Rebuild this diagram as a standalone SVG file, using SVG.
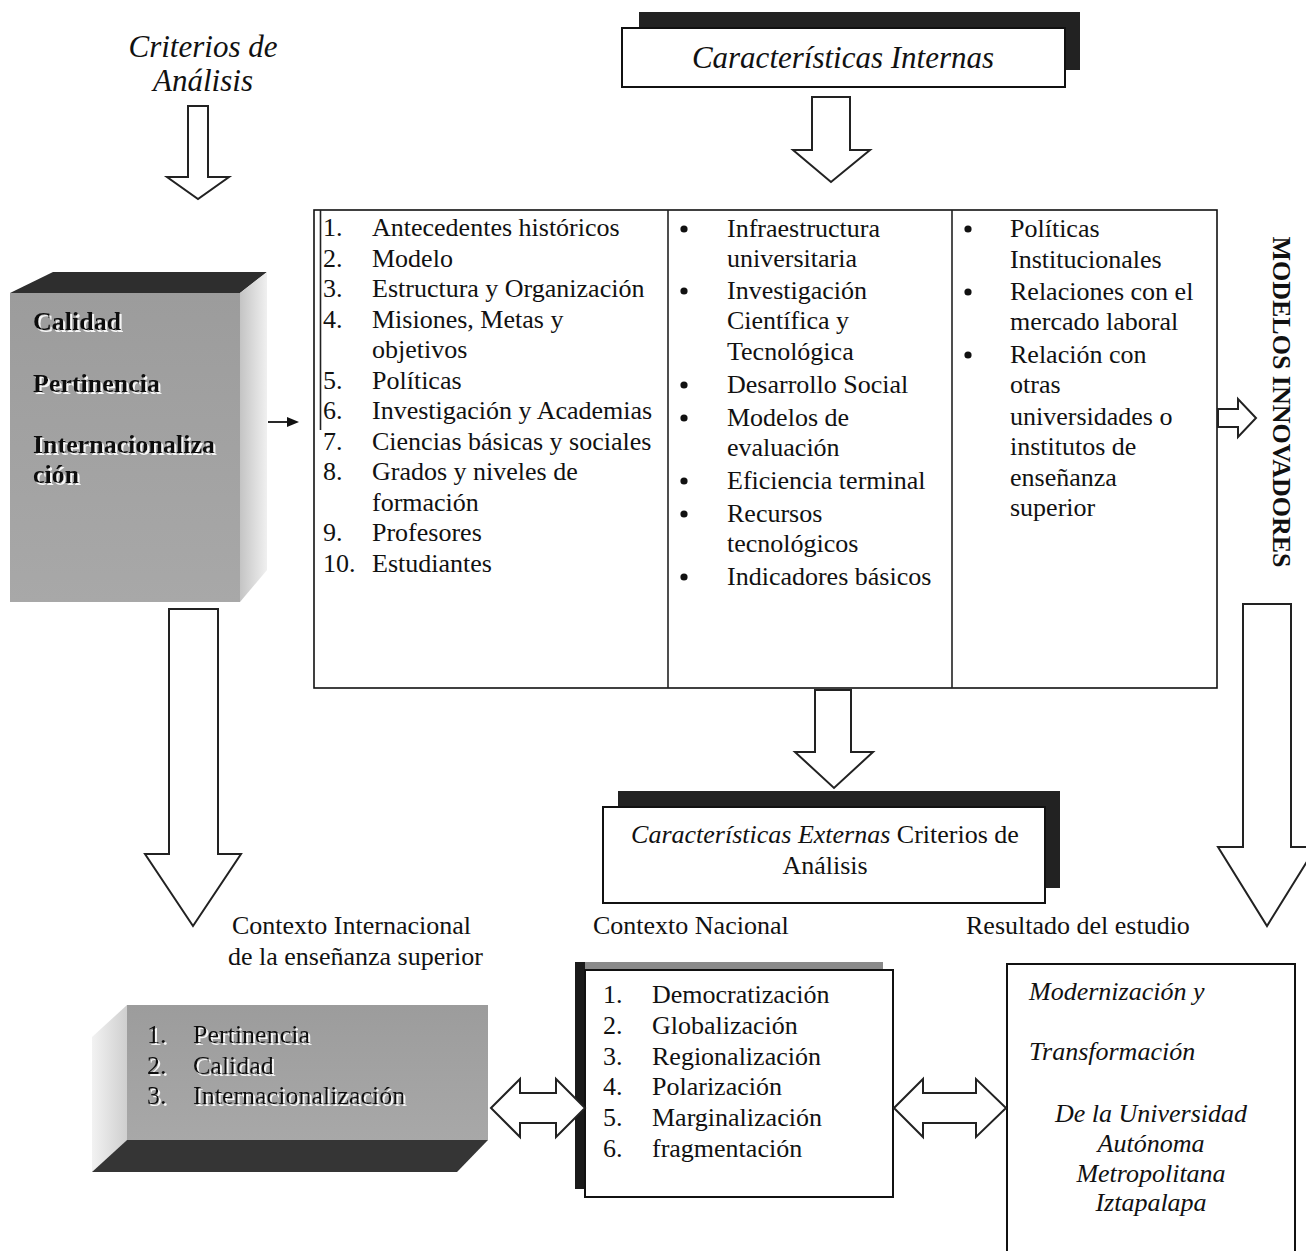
<svg xmlns="http://www.w3.org/2000/svg" width="1306" height="1251" viewBox="0 0 1306 1251">
<style>
text{font-family:"Liberation Serif","Times New Roman",serif;fill:#111;}
.b{font-size:26px;}
.bd{font-size:26px;font-weight:bold;}
.it{font-size:26px;font-style:italic;}
.h{font-size:31px;font-style:italic;}
.ar{fill:#fff;stroke:#222;stroke-width:2;stroke-linejoin:miter;}
.ln{fill:none;stroke:#222;stroke-width:1.6;}
.box{fill:#fff;stroke:#111;stroke-width:2;}
.shd{fill:#222;}
</style>
<defs>
<filter id="emb" x="-5%" y="-20%" width="110%" height="140%">
<feOffset in="SourceAlpha" dx="1.5" dy="1.5" result="o"/>
<feFlood flood-color="#ffffff" flood-opacity="0.9"/>
<feComposite in2="o" operator="in" result="w"/>
<feMerge><feMergeNode in="w"/><feMergeNode in="SourceGraphic"/></feMerge>
</filter>
<linearGradient id="sideR" x1="0" y1="0" x2="1" y2="0">
<stop offset="0" stop-color="#c4c4c4"/><stop offset="1" stop-color="#f0f0f0"/>
</linearGradient>
<linearGradient id="sideL" x1="0" y1="0" x2="1" y2="0">
<stop offset="0" stop-color="#f2f2f2"/><stop offset="1" stop-color="#cfcfcf"/>
</linearGradient>
<linearGradient id="front" x1="0" y1="0" x2="0" y2="1">
<stop offset="0" stop-color="#9c9c9c"/><stop offset="1" stop-color="#a8a8a8"/>
</linearGradient>
</defs>

<!-- Criterios de Análisis label -->
<g id="criterios">
<text class="h" x="203" y="57" text-anchor="middle">Criterios de</text>
<text class="h" x="203" y="91" text-anchor="middle">Análisis</text>
</g>

<!-- Características Internas -->
<g id="internas">
<rect class="shd" x="639" y="12" width="441" height="58"/>
<rect class="box" x="622" y="28" width="443" height="59"/>
<text class="h" x="843" y="68" text-anchor="middle">Características Internas</text>
</g>

<!-- Calidad 3D box -->
<g id="calidad">
<polygon points="10,293 53,272 267,272 240,293" fill="#2e2e2e"/>
<polygon points="240,293 267,272 267,570 240,602" fill="url(#sideR)"/>
<rect x="10" y="293" width="230" height="309" fill="url(#front)"/>
<g filter="url(#emb)">
<text class="bd" x="33" y="330">Calidad</text>
<text class="bd" x="33" y="392">Pertinencia</text>
<text class="bd" x="33" y="453">Internacionaliza</text>
<text class="bd" x="33" y="483">ción</text>
</g>
</g>

<!-- Main table -->
<g id="tabla">
<rect x="314" y="210" width="903" height="478" fill="#fff" stroke="#111" stroke-width="1.6"/>
<line class="ln" x1="320.5" y1="210" x2="320.5" y2="430"/>
<line class="ln" x1="668" y1="210" x2="668" y2="688"/>
<line class="ln" x1="952" y1="210" x2="952" y2="688"/>
<g class="col1">
<text class="b" x="323" y="236">1.</text><text class="b" x="372" y="236">Antecedentes históricos</text>
<text class="b" x="323" y="266.5">2.</text><text class="b" x="372" y="266.5">Modelo</text>
<text class="b" x="323" y="297">3.</text><text class="b" x="372" y="297">Estructura y Organización</text>
<text class="b" x="323" y="327.5">4.</text><text class="b" x="372" y="327.5">Misiones, Metas y</text>
<text class="b" x="372" y="358">objetivos</text>
<text class="b" x="323" y="388.5">5.</text><text class="b" x="372" y="388.5">Políticas</text>
<text class="b" x="323" y="419">6.</text><text class="b" x="372" y="419">Investigación y Academias</text>
<text class="b" x="323" y="449.5">7.</text><text class="b" x="372" y="449.5">Ciencias básicas y sociales</text>
<text class="b" x="323" y="480">8.</text><text class="b" x="372" y="480">Grados y niveles de</text>
<text class="b" x="372" y="510.5">formación</text>
<text class="b" x="323" y="541">9.</text><text class="b" x="372" y="541">Profesores</text>
<text class="b" x="323" y="571.5">10.</text><text class="b" x="372" y="571.5">Estudiantes</text>
</g>
<g class="col2">
<circle cx="684" cy="229" r="3.6" fill="#111"/>
<text class="b" x="727" y="237">Infraestructura</text>
<text class="b" x="727" y="267">universitaria</text>
<circle cx="684" cy="291" r="3.6" fill="#111"/>
<text class="b" x="727" y="299">Investigación</text>
<text class="b" x="727" y="329">Científica y</text>
<text class="b" x="727" y="360">Tecnológica</text>
<circle cx="684" cy="385" r="3.6" fill="#111"/>
<text class="b" x="727" y="393">Desarrollo Social</text>
<circle cx="684" cy="418" r="3.6" fill="#111"/>
<text class="b" x="727" y="426">Modelos de</text>
<text class="b" x="727" y="456">evaluación</text>
<circle cx="684" cy="481" r="3.6" fill="#111"/>
<text class="b" x="727" y="489">Eficiencia terminal</text>
<circle cx="684" cy="514" r="3.6" fill="#111"/>
<text class="b" x="727" y="522">Recursos</text>
<text class="b" x="727" y="552">tecnológicos</text>
<circle cx="684" cy="577" r="3.6" fill="#111"/>
<text class="b" x="727" y="585">Indicadores básicos</text>
</g>
<g class="col3">
<circle cx="968" cy="229" r="3.6" fill="#111"/>
<text class="b" x="1010" y="237">Políticas</text>
<text class="b" x="1010" y="268">Institucionales</text>
<circle cx="968" cy="292" r="3.6" fill="#111"/>
<text class="b" x="1010" y="300">Relaciones con el</text>
<text class="b" x="1010" y="330">mercado laboral</text>
<circle cx="968" cy="355" r="3.6" fill="#111"/>
<text class="b" x="1010" y="363">Relación con</text>
<text class="b" x="1010" y="393">otras</text>
<text class="b" x="1010" y="425">universidades o</text>
<text class="b" x="1010" y="455">institutos de</text>
<text class="b" x="1010" y="486">enseñanza</text>
<text class="b" x="1010" y="516">superior</text>
</g>
</g>

<!-- Modelos innovadores -->
<g id="modelos">
<text class="bd" transform="translate(1281,402) rotate(90)" x="0" y="8.5" text-anchor="middle">MODELOS INNOVADORES</text>
</g>

<!-- Características Externas -->
<g id="externas">
<rect class="shd" x="618" y="791" width="442" height="97"/>
<rect class="box" x="603" y="807" width="442" height="96"/>
<text class="b" x="825" y="843" text-anchor="middle"><tspan font-style="italic">Características Externas</tspan> Criterios de</text>
<text class="b" x="825" y="874" text-anchor="middle">Análisis</text>
</g>

<!-- Labels -->
<g id="labels">
<text class="b" x="232" y="934">Contexto Internacional</text>
<text class="b" x="228" y="965">de la enseñanza superior</text>
<text class="b" x="593" y="934">Contexto Nacional</text>
<text class="b" x="966" y="934">Resultado del estudio</text>
</g>

<!-- Contexto internacional 3D box -->
<g id="internacional">
<polygon points="127,1005 92,1037 92,1172 127,1140" fill="url(#sideL)"/>
<polygon points="127,1140 488,1140 457,1172 92,1172" fill="#353535"/>
<rect x="127" y="1005" width="361" height="135" fill="url(#front)"/>
<g filter="url(#emb)">
<text class="b" x="147" y="1043">1.</text><text class="b" x="193" y="1043">Pertinencia</text>
<text class="b" x="147" y="1073.5">2.</text><text class="b" x="193" y="1073.5">Calidad</text>
<text class="b" x="147" y="1104">3.</text><text class="b" x="193" y="1104">Internacionalización</text>
</g>
</g>

<!-- Contexto nacional box -->
<g id="nacional">
<rect x="575" y="962" width="308" height="227" fill="#1a1a1a"/>
<rect x="585" y="962" width="298" height="8" fill="#8a8a8a"/>
<rect class="box" x="585" y="970" width="308" height="227"/>
<text class="b" x="603" y="1003">1.</text><text class="b" x="652" y="1003">Democratización</text>
<text class="b" x="603" y="1034">2.</text><text class="b" x="652" y="1034">Globalización</text>
<text class="b" x="603" y="1065">3.</text><text class="b" x="652" y="1065">Regionalización</text>
<text class="b" x="603" y="1095">4.</text><text class="b" x="652" y="1095">Polarización</text>
<text class="b" x="603" y="1126">5.</text><text class="b" x="652" y="1126">Marginalización</text>
<text class="b" x="603" y="1157">6.</text><text class="b" x="652" y="1157">fragmentación</text>
</g>

<!-- Resultado box -->
<g id="resultado">
<rect class="box" x="1007" y="964" width="288" height="300"/>
<text class="it" x="1029" y="1000">Modernización y</text>
<text class="it" x="1029" y="1060">Transformación</text>
<text class="it" x="1151" y="1122" text-anchor="middle">De la Universidad</text>
<text class="it" x="1151" y="1152" text-anchor="middle">Autónoma</text>
<text class="it" x="1151" y="1182" text-anchor="middle">Metropolitana</text>
<text class="it" x="1151" y="1211" text-anchor="middle">Iztapalapa</text>
</g>

<!-- Connectors -->
<g id="connectors">
<!-- criterios down -->
<polygon class="ar" points="188,106 208,106 208,177 229,177 198,199 167,177 188,177"/>
<!-- internas down -->
<polygon class="ar" points="812,97 850,97 850,150 870,150 831,182 793,150 812,150"/>
<!-- calidad to table small arrow -->
<line x1="268" y1="422" x2="290" y2="422" stroke="#111" stroke-width="1.8"/>
<polygon points="287,417 299,422 287,427" fill="#111"/>
<!-- table right small hollow arrow -->
<polygon class="ar" points="1218,409 1238,409 1238,399 1256,418 1238,437 1238,427 1218,427"/>
<!-- big left arrow -->
<polygon class="ar" points="169,609 218,609 218,854 241,854 193,926 145,854 169,854"/>
<!-- table down to externas -->
<polygon class="ar" points="815,690 851,690 851,752 873,752 834,788 795,752 815,752"/>
<!-- big right arrow -->
<polygon class="ar" points="1243,604 1291,604 1291,847 1316,847 1267,926 1218,847 1243,847"/>
<!-- left double arrow -->
<polygon class="ar" points="491,1108 520,1079 520,1093 556,1093 556,1079 585,1108 556,1137 556,1123 520,1123 520,1137"/>
<!-- right double arrow -->
<polygon class="ar" points="894,1108 923,1079 923,1093 976,1093 976,1079 1006,1108 976,1137 976,1123 923,1123 923,1137"/>
</g>
</svg>
